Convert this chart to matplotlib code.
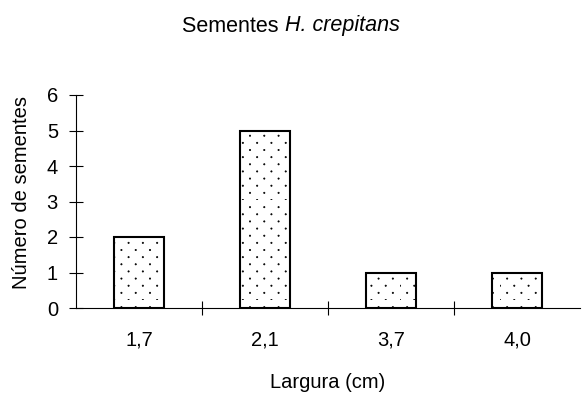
import numpy as np
import matplotlib
matplotlib.use("Agg")
import matplotlib.pyplot as plt
import matplotlib.hatch as mhatch
from matplotlib.path import Path

plt.rcParams['font.family'] = ['Liberation Sans', 'DejaVu Sans']
plt.rcParams['hatch.linewidth'] = 0.5
plt.rcParams['hatch.color'] = '#111111'

_default_get_path = mhatch.get_path


def dotted_hatch_path(hatchpattern, density=6):
    """'.' hatch: small filled dots on a staggered lattice in a unit cell."""
    if hatchpattern is None or '.' not in hatchpattern:
        return _default_get_path(hatchpattern, density)
    cols, rows, radius = 7, 14, 0.0065
    circ = Path.unit_circle()
    verts, codes = [], []
    for r in range(rows):
        y = r / rows
        shift = 0.5 * (r % 2)
        for c in range(cols):
            verts.append(circ.vertices * radius + [(c + shift) / cols, y])
            codes.append(circ.codes)
    return Path(np.concatenate(verts), np.concatenate(codes))


mhatch.get_path = dotted_hatch_path

categories = ["1,7", "2,1", "3,7", "4,0"]
counts = [2, 5, 1, 1]
yticks = [0, 1, 2, 3, 4, 5, 6]

FS = 14.5

fig = plt.figure(figsize=(5.82, 3.94), dpi=100)
ax = fig.add_axes([76/582, 86/394, 504/582, 213/394])

x = list(range(len(categories)))
ax.bar(x, counts, width=0.4, facecolor='white', edgecolor='black',
       linewidth=1.5, hatch='.')

ax.set_xlim(-0.5, len(categories) - 0.5)
ax.set_ylim(0, 6)
ax.set_yticks(yticks)
ax.set_yticklabels([str(v) for v in yticks])
ax.set_xticks([i + 0.5 for i in range(len(categories) - 1)])
ax.set_xticklabels([])
ax.set_xticks(x, minor=True)
ax.set_xticklabels(categories, minor=True)
ax.tick_params(axis='x', which='minor', length=0, pad=16, labelsize=FS)
ax.tick_params(axis='x', which='major', direction='inout', length=10, width=0.8)
ax.tick_params(axis='y', direction='inout', length=10, width=0.8, pad=8, labelsize=FS)

for s in ['top', 'right']:
    ax.spines[s].set_visible(False)
for s in ['left', 'bottom']:
    ax.spines[s].set_linewidth(0.8)

ax.set_xlabel("Largura (cm)", fontsize=FS, labelpad=17)
ax.set_ylabel("Número de sementes", fontsize=FS)
ax.yaxis.set_label_coords(-0.09, 0.54)

# Title: upright prefix followed by the italic species name, centred as a whole
TFS = 15.5
ty = 1 - 26/394
t1 = fig.text(0.5, ty, "Sementes ", ha='left', va='center', fontsize=TFS)
t2 = fig.text(0, 0, "H. crepitans", ha='left', va='center', fontsize=TFS,
              style='italic')
fig.canvas.draw()
r = fig.canvas.get_renderer()
w1 = t1.get_window_extent(r).width
w2 = t2.get_window_extent(r).width
W = fig.bbox.width
x0 = 0.5 - (w1 + w2) / 2 / W
t1.set_x(x0)
t2.set_position((x0 + w1 / W, ty))

fig.savefig("out.png", dpi=100)
